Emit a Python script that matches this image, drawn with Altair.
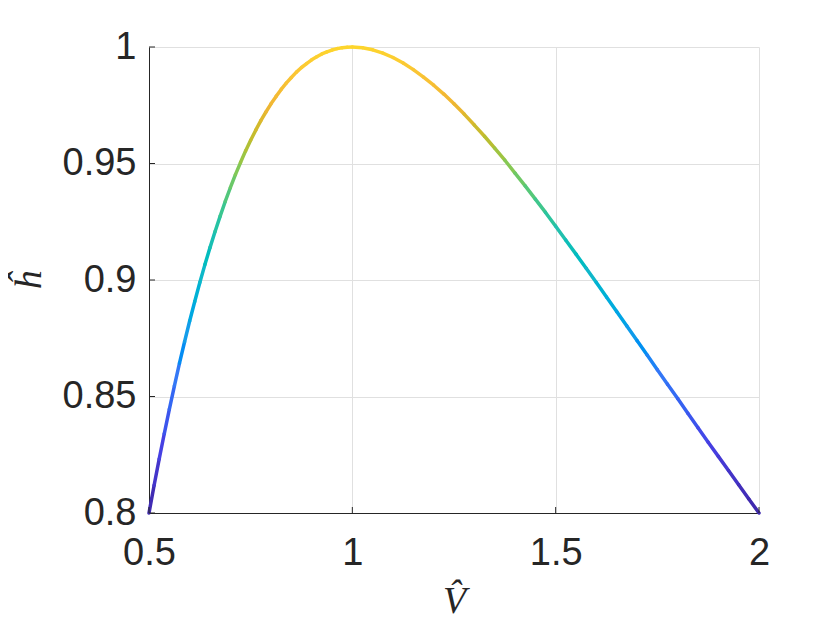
import altair as alt
import pandas as pd

# Values (V-hat, h-hat)
V = [0.5000, 0.5125, 0.5250, 0.5375, 0.5500, 0.5625, 0.5750, 0.5875, 0.6000, 0.6125,
     0.6250, 0.6375, 0.6500, 0.6625, 0.6750, 0.6875, 0.7000, 0.7125, 0.7250, 0.7375,
     0.7500, 0.7625, 0.7750, 0.7875, 0.8000, 0.8125, 0.8250, 0.8375, 0.8500, 0.8625,
     0.8750, 0.8875, 0.9000, 0.9125, 0.9250, 0.9375, 0.9500, 0.9625, 0.9750, 0.9875,
     1.000, 1.025, 1.050, 1.075, 1.100, 1.125, 1.150, 1.175, 1.200, 1.225,
     1.250, 1.275, 1.300, 1.325, 1.350, 1.375, 1.400, 1.425, 1.450, 1.475,
     1.500, 1.525, 1.550, 1.575, 1.600, 1.625, 1.650, 1.675, 1.700, 1.725,
     1.750, 1.775, 1.800, 1.825, 1.850, 1.875, 1.900, 1.925, 1.950, 1.975,
     2.000]
H = [0.8000, 0.8118, 0.8231, 0.8340, 0.8445, 0.8546, 0.8643, 0.8735, 0.8824, 0.8908,
     0.8989, 0.9066, 0.9139, 0.9208, 0.9274, 0.9337, 0.9396, 0.9452, 0.9504, 0.9554,
     0.9600, 0.9643, 0.9684, 0.9721, 0.9756, 0.9788, 0.9818, 0.9845, 0.9869, 0.9892,
     0.9912, 0.9929, 0.9945, 0.9958, 0.9970, 0.9979, 0.9987, 0.9993, 0.9997, 0.9999,
     1.0000, 0.9997, 0.9988, 0.9974, 0.9955, 0.9931, 0.9903, 0.9871, 0.9836, 0.9798,
     0.9756, 0.9712, 0.9665, 0.9617, 0.9566, 0.9514, 0.9459, 0.9404, 0.9347, 0.9290,
     0.9231, 0.9171, 0.9111, 0.9050, 0.8989, 0.8927, 0.8865, 0.8803, 0.8740, 0.8678,
     0.8615, 0.8553, 0.8491, 0.8428, 0.8366, 0.8304, 0.8243, 0.8182, 0.8121, 0.8060,
     0.8000]

# colour stops along h (parula-like)
h_stops = [0.80, 0.83, 0.86, 0.88, 0.90, 0.92, 0.94, 0.95, 0.96, 0.975, 0.99, 1.00]
stop_colors = ["#3e26a8", "#4641e6", "#3479f6", "#1ea0e8", "#16b6cc", "#22c0ae",
               "#60c870", "#8cc850", "#bcbd30", "#f0b533", "#fbc734", "#fdd52c"]

x_ticks = [0.5, 1.0, 1.5, 2.0]
y_ticks = [0.8, 0.85, 0.9, 0.95, 1.0]

seg = pd.DataFrame({"V": V[:-1], "h": H[:-1], "V2": V[1:], "h2": H[1:]})
seg["hm"] = (seg["h"] + seg["h2"]) / 2

xs = alt.Scale(domain=[0.5, 2.0], nice=False, zero=False)
ys = alt.Scale(domain=[0.8, 1.0], nice=False, zero=False)

FONT = "Liberation Sans"
TXT = "#262626"

x_axis = alt.Axis(values=x_ticks, format="~g", title="V\u0302", grid=True,
                  gridColor="#e0e0e0", ticks=False, labelFlush=False,
                  labelOverlap=False, labelPadding=21, labelFont=FONT,
                  labelFontSize=38, labelColor=TXT, domainColor=TXT,
                  titleFont="Liberation Serif", titleFontStyle="italic",
                  titleFontWeight="normal", titleFontSize=38, titleColor=TXT,
                  titleBaseline="alphabetic", titleY=99, titleX=305)
y_axis = alt.Axis(values=y_ticks, format="~g", title="\u0125", grid=True,
                  gridColor="#e0e0e0", ticks=False, labelFlush=False,
                  labelOverlap=False, labelPadding=13, labelFont=FONT,
                  labelFontSize=38, labelColor=TXT, domainColor=TXT,
                  titleFont="Liberation Serif", titleFontStyle="italic",
                  titleFontWeight="normal", titleFontSize=38, titleColor=TXT,
                  titleAngle=270, titleBaseline="alphabetic",
                  titleX=-109, titleY=233)

curve = alt.Chart(seg).mark_rule(strokeWidth=3.5, strokeCap="round").encode(
    x=alt.X("V:Q", scale=xs, axis=x_axis),
    y=alt.Y("h:Q", scale=ys, axis=y_axis),
    x2="V2:Q",
    y2="h2:Q",
    color=alt.Color("hm:Q", scale=alt.Scale(domain=h_stops, range=stop_colors),
                    legend=None),
)

ytick_df = pd.DataFrame({"h": y_ticks})
xtick_df = pd.DataFrame({"V": x_ticks})

yticks = alt.Chart(ytick_df).mark_rule(color=TXT, strokeWidth=1).encode(
    y=alt.Y("h:Q", scale=ys, axis=y_axis),
    x=alt.value(0), x2=alt.value(6),
)
xticks = alt.Chart(xtick_df).mark_rule(color=TXT, strokeWidth=1).encode(
    x=alt.X("V:Q", scale=xs, axis=x_axis),
    y=alt.value(466), y2=alt.value(460),
)

chart = alt.layer(curve, yticks, xticks).properties(
    width=610, height=466,
    autosize=alt.AutoSizeParams(type="none"),
    padding={"left": 141, "top": 39, "right": 73, "bottom": 109},
    background="white",
).configure_view(stroke=None)

chart.save("out.html", embed_options={"renderer": "svg", "actions": False})
